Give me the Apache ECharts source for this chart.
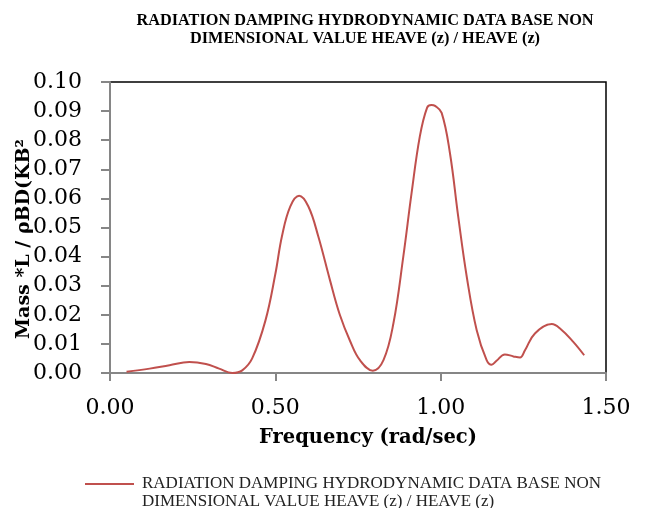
<!DOCTYPE html>
<html><head><meta charset="utf-8">
<script src="https://cdn.jsdelivr.net/npm/echarts@6/dist/echarts.min.js"></script>
<style>html,body{margin:0;padding:0;background:#fff}#c{width:645px;height:508px}</style>
</head><body><div id="c"></div>
<script>
const titleText = 'RADIATION DAMPING HYDRODYNAMIC DATA BASE NON\nDIMENSIONAL VALUE HEAVE (z) / HEAVE (z)';
const seriesName = 'RADIATION DAMPING HYDRODYNAMIC DATA BASE NON\nDIMENSIONAL VALUE HEAVE (z) / HEAVE (z)';
const xAxisName = 'Frequency (rad/sec)';
const yAxisName = 'Mass *L / ρBD(KB²';
const frequency = [0.05,0.12,0.18,0.24,0.29,0.33,0.37,0.40,0.43,0.47,0.50,0.52,0.545,0.572,0.60,0.63,0.665,0.695,0.726,0.756,0.795,0.827,0.857,0.887,0.912,0.937,0.959,0.972,0.983,1.003,1.028,1.053,1.079,1.109,1.139,1.154,1.169,1.194,1.22,1.24,1.255,1.285,1.336,1.361,1.401,1.434];
const damping = [0.0004,0.0015,0.0027,0.0038,0.0031,0.0015,0.0000,0.0009,0.0050,0.0180,0.0340,0.0470,0.0572,0.0609,0.0572,0.0469,0.0320,0.0200,0.0110,0.0044,0.0008,0.0044,0.0170,0.0400,0.0618,0.0813,0.0912,0.0921,0.0918,0.0894,0.0756,0.0538,0.0330,0.0147,0.0044,0.0028,0.0042,0.0064,0.0057,0.0053,0.0078,0.0136,0.0168,0.0153,0.0107,0.0061];

const chart = echarts.init(document.getElementById('c'), null, {renderer:'canvas'});
const serif = '"DejaVu Serif", serif';
const lserif = '"Liberation Serif", serif';
const lineColor = '#C0504D';
chart.setOption({
  animation:false,
  title:{text:titleText,left:360,top:7,textAlign:'center',
    textStyle:{fontFamily:lserif,fontWeight:'bold',fontSize:16.3,lineHeight:18,color:'#000'}},
  grid:{left:110,top:82,right:39,bottom:135,show:true,borderColor:'#000',borderWidth:1.5,backgroundColor:'#fff'},
  xAxis:{type:'value',min:0,max:1.5,interval:0.5,
    axisLine:{lineStyle:{color:'#868686',width:2}},
    axisTick:{show:true,length:8,lineStyle:{color:'#868686',width:2}},
    splitLine:{show:false},
    axisLabel:{formatter:v=>v.toFixed(2),fontFamily:serif,fontSize:22,color:'#000',margin:24}},
  yAxis:{type:'value',min:0,max:0.1,interval:0.01,
    axisLine:{show:true,lineStyle:{color:'#868686',width:2}},
    axisTick:{show:true,length:9,lineStyle:{color:'#868686',width:2}},
    splitLine:{show:false},
    axisLabel:{formatter:v=>v.toFixed(2),fontFamily:serif,fontSize:22,color:'#000',margin:28}},
  series:[{name:seriesName,type:'line',smooth:0.4,symbol:'none',
    lineStyle:{color:lineColor,width:2},
    data:frequency.map((f,i)=>[f,damping[i]])}],
  graphic:[
    {type:'text',x:368,y:438,style:{text:xAxisName,fontFamily:serif,fontWeight:'bold',fontSize:19.5,fill:'#000',align:'center',verticalAlign:'middle'}},
    {type:'text',x:24,y:239,rotation:Math.PI/2,style:{text:yAxisName,fontFamily:serif,fontWeight:'bold',fontSize:19,fill:'#000',align:'center',verticalAlign:'middle'}},
    {type:'line',shape:{x1:85,y1:484,x2:134,y2:484},style:{stroke:lineColor,lineWidth:2}},
    {type:'text',x:142,y:493,style:{text:seriesName,fontFamily:lserif,fontSize:17,lineHeight:18,fill:'#222',verticalAlign:'middle'}}
  ]
});
</script></body></html>
